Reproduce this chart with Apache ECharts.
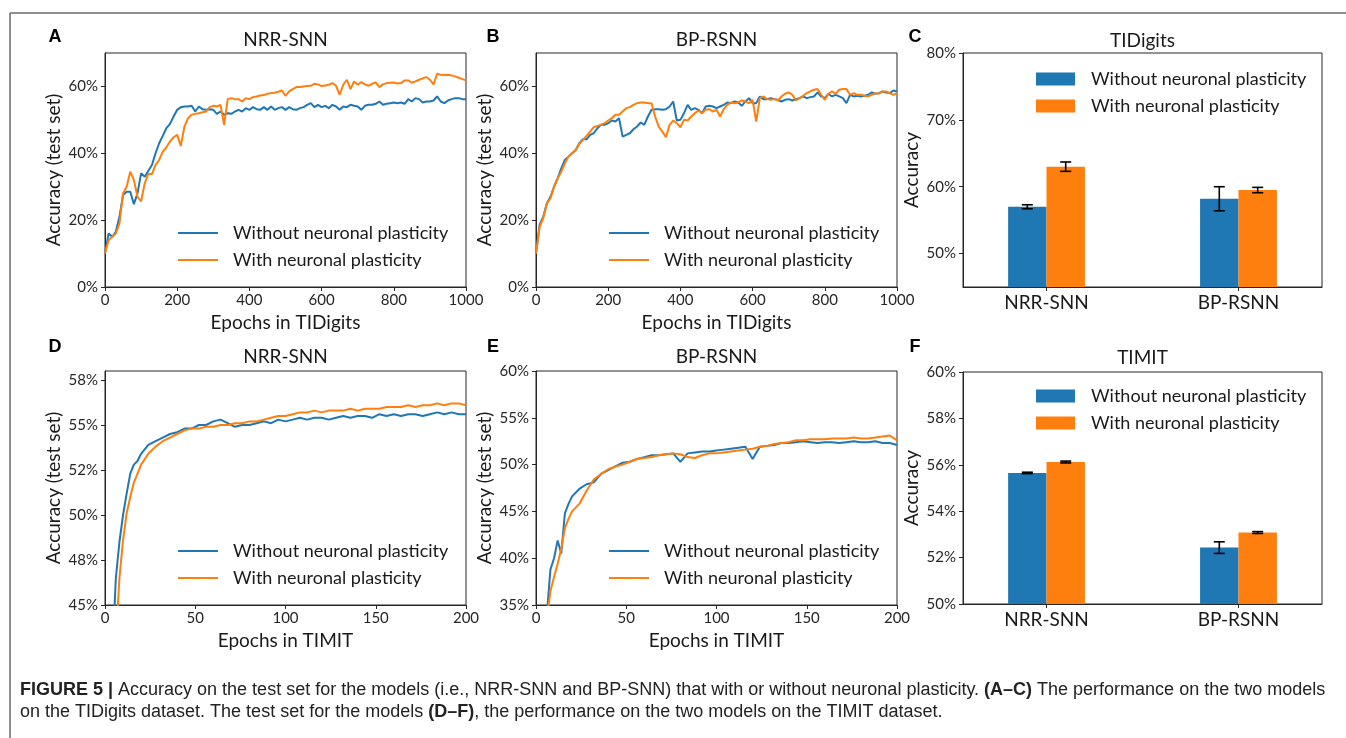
<!DOCTYPE html>
<html><head><meta charset="utf-8">
<script src="https://cdn.jsdelivr.net/npm/echarts@6/dist/echarts.min.js"></script>
<style>html,body{margin:0;padding:0;background:#fff}#c{width:1346px;height:738px}</style>
</head><body><div id="c"></div>
<script>
const seriesNames = ['Without neuronal plasticity', 'With neuronal plasticity'];

const epochsTIDigits = [0,10,20,30,40,50,60,70,80,90,100,110,120,130,140,150,160,170,180,190,200,210,220,230,240,250,260,270,280,290,300,310,320,330,340,350,360,370,380,390,400,410,420,430,440,450,460,470,480,490,500,510,520,530,540,550,560,570,580,590,600,610,620,630,640,650,660,670,680,690,700,710,720,730,740,750,760,770,780,790,800,810,820,830,840,850,860,870,880,890,900,910,920,930,940,950,960,970,980,990,1000];

const nrrTIDigitsWithout = [10,16,15,16.5,21,27.5,28.5,28.5,24.8,28,
34,33,34.8,36.5,40,43,45.2,47.5,48.8,51,
53,53.8,54,54,54.2,52.5,54,53.2,53,53.2,
53,51.8,52.5,51.5,52,51.8,52.5,53,52.5,53.5,
53,53.8,53.2,53,53.8,53,54,53,53.5,53.8,
53,53.8,53.2,53,53.5,53.8,54.5,55,53.8,54.5,
53.8,54.2,53.5,54.5,54,53,54,53.8,54.5,54.2,
54,53,54.2,54.5,54.5,54.8,55.5,54.5,54.8,55,
55.2,55,55.2,54.8,56.2,55.5,56.5,56.2,55.2,55.5,
55.5,55.8,57,55.5,55,55.8,56.2,56.5,56.5,56.2,56.2];

const nrrTIDigitsWith = [10,14,15,16,19,28,30,34.5,32,27,
25.6,31,33.8,33.8,36.5,38,40.5,41.8,43.5,44.8,
45.5,42.2,48,50.5,51.5,51.8,52,52.3,52.5,53.8,
54.2,54,54.5,48.5,56.2,56.5,56.2,56.2,55.5,56.5,
56.2,56.8,57,57.3,57.4,57.8,58,58.1,58.4,58.8,
57.2,58.5,59.2,59.8,59.8,60,60.1,60.2,60.8,60.6,
60.1,60.3,60.5,61,60.2,57.5,60.5,62,59.2,61.5,
60.5,61.3,60.6,60.2,60.8,61.2,59.8,60.6,61,61.1,
61.2,60.9,61,61.8,61.8,61.1,61.5,62,62.4,62.8,
62,60.6,63.8,63.5,63.4,63.5,63.3,63,62.6,62.2,61.8];

const bpTIDigitsWithout = [10,18.6,21,25,27,30,32.5,35.5,38,39,
40,41,43,44.2,44.2,45.5,46,47.5,48.5,48.5,
49,49.8,49.5,50.5,45,45.5,46,47.2,48,49.2,
48.5,51,53,53.2,53.2,53,53.2,54,55.5,49.8,
50,52,54.5,53,53.5,53,52,54,54.2,54,
53.5,54,54.5,55.2,55,55.5,55.2,54.2,55.5,56.5,
55,55,57,56.2,56.2,56.5,56.2,56,55.5,56,
56.2,55.8,56.2,56.5,57,56.5,56.8,57,58.2,57,
56.5,57.8,57,57.5,57,56.5,55,57.5,57,57.2,
57,57.2,57.5,58.2,57.8,58,58.5,58.2,58,58.8,58.5];

const bpTIDigitsWith = [10,18,20.5,25,26.5,30,32.5,34.5,37,39,
40,41,42.8,44,45.2,46.5,47.8,48.2,48.5,49,
49.8,50.5,51.5,51.5,52.5,53.5,53.8,54.5,55,55.2,
55.2,55,55,51,48,46.5,44.8,48.5,49.8,49,
47.8,50,49.8,51,52,52.8,52,53,53.2,52.5,
53,51,53.2,54.5,55.2,55,55.2,55.8,55.5,55,
56,49.5,56.5,57,56.2,56,56.2,55.8,57,57.8,
58.2,57.5,55.8,56.5,57.2,58,58.5,59,59.2,57.5,
56,57.8,58.5,57.8,59,59.2,59.2,57.5,58,57.5,
57.5,57.2,57,57.5,58,57.8,58.5,58.5,58,57.5,58];

const epochsTIMIT = [0,2,4,6,8,10,12,14,16,18,20,24,28,32,36,40,44,48,52,56,60,64,68,72,76,80,84,88,92,96,100,104,108,112,116,120,124,128,132,136,140,144,148,152,156,160,164,168,172,176,180,184,188,192,196,200];

const nrrTIMITWithout = [30,36,42,46.5,48.5,50.0,51.2,52.3,52.8,53.0,53.4,
53.9,54.1,54.3,54.5,54.6,54.8,54.8,55.0,55.0,55.2,
55.3,55.1,54.9,55.0,55.0,55.1,55.2,55.1,55.3,55.2,
55.3,55.4,55.3,55.4,55.4,55.3,55.4,55.5,55.4,55.5,
55.5,55.4,55.6,55.5,55.6,55.5,55.6,55.6,55.5,55.6,
55.7,55.6,55.7,55.6,55.6];

const nrrTIMITWith = [25,32,38,43,46.5,48.6,50.1,51.0,51.8,52.3,52.8,
53.4,53.8,54.1,54.3,54.5,54.7,54.8,54.8,54.9,54.9,
55.0,55.0,55.1,55.1,55.2,55.2,55.3,55.4,55.5,55.5,
55.6,55.7,55.7,55.8,55.7,55.8,55.8,55.8,55.9,55.8,
55.9,55.9,55.9,56.0,56.0,56.0,56.1,56.0,56.1,56.1,
56.2,56.1,56.2,56.2,56.1];

const bpTIMITWithout = [20,26,31,34,38.8,40.0,41.9,40.5,44.8,45.8,46.6,
47.4,47.9,48.1,49.0,49.4,49.8,50.2,50.3,50.6,50.8,
51.0,51.0,51.1,51.2,50.3,51.2,51.3,51.4,51.4,51.5,
51.6,51.7,51.8,51.9,50.6,51.9,52.0,52.1,52.3,52.3,
52.4,52.5,52.4,52.3,52.4,52.4,52.3,52.4,52.5,52.4,
52.4,52.5,52.3,52.3,52.1];

const bpTIMITWith = [18,24,29,33.5,36.5,38.0,39.4,41.0,43.2,44.2,45.0,
45.8,47.2,48.4,49.0,49.5,49.8,50.0,50.3,50.6,50.7,
50.8,51.0,51.1,51.2,51.1,50.8,50.7,51.0,51.2,51.2,
51.3,51.4,51.5,51.6,51.7,51.9,52.0,52.2,52.3,52.4,
52.6,52.6,52.7,52.7,52.7,52.8,52.8,52.8,52.9,52.8,
52.8,52.9,53.0,53.1,52.6];

const barCategories = ['NRR-SNN', 'BP-RSNN'];
const tidigitsBarWithout = [57.0, 58.2];
const tidigitsBarWithoutErr = [0.3, 1.8];
const tidigitsBarWith = [63.0, 59.5];
const tidigitsBarWithErr = [0.7, 0.4];
const timitBarWithout = [55.65, 52.43];
const timitBarWithoutErr = [0.03, 0.25];
const timitBarWith = [56.12, 53.08];
const timitBarWithErr = [0.04, 0.04];

const ticksTIDigitsLineY = [0, 20, 40, 60];
const ticksTIMITnrrY = [45, 47.5, 50, 52.5, 55, 57.5];
const labelsTIMITnrrY = ['45%', '48%', '50%', '52%', '55%', '58%'];
const ticksTIMITbpY = [35, 40, 45, 50, 55, 60];
const ticksTIDigitsBarY = [50, 60, 70, 80];
const ticksTIMITBarY = [50, 52, 54, 56, 58, 60];

const FONT = 'Lato';
const INK = '#1a1a1a';
const AX = '#262626';
const BLUE = '#1f77b4';
const ORANGE = '#ff7f0e';

const chart = echarts.init(document.getElementById('c'), null, {renderer: 'canvas'});

function mkGrid(l, t, w, h) {
  return {left: l, top: t, width: w, height: h, show: true, borderColor: AX, borderWidth: 1,
          backgroundColor: 'transparent', containLabel: false, outerBoundsMode: 'none'};
}
const grids = [
  mkGrid(105, 53, 361, 234),
  mkGrid(536, 53, 361, 234),
  mkGrid(963, 53, 359, 234),
  mkGrid(105, 371, 361, 234),
  mkGrid(536, 371, 361, 234),
  mkGrid(963, 372, 359, 232)
];

const axLine = {show: true, onZero: false, lineStyle: {color: AX, width: 1}};
const tickStyle = {color: AX, width: 1};
function xLine(gi, max, interval, name) {
  return {type: 'value', gridIndex: gi, min: 0, max: max, interval: interval,
    axisLine: axLine, axisTick: {show: true, length: 4, lineStyle: tickStyle},
    axisLabel: {fontFamily: FONT, fontSize: 15, color: AX, margin: 6,
      formatter: function (v) { return String(v); }},
    splitLine: {show: false},
    name: name, nameLocation: 'middle', nameGap: 26,
    nameTextStyle: {fontFamily: FONT, fontSize: 19, color: INK}};
}
function yAxisDef(gi, min, max, ticks, labels, name, gap) {
  return {type: 'value', gridIndex: gi, min: min, max: max,
    axisLine: axLine, axisTick: {show: true, length: 4, lineStyle: tickStyle, customValues: ticks},
    axisLabel: {fontFamily: FONT, fontSize: 15, color: AX, margin: 7, customValues: ticks,
      formatter: function (v) { const i = ticks.indexOf(v); return labels ? labels[i] : (v + '%'); }},
    splitLine: {show: false},
    name: name, nameLocation: 'middle', nameGap: gap, nameRotate: 90,
    nameTextStyle: {fontFamily: FONT, fontSize: 19, color: INK}};
}
function xBar(gi) {
  return {type: 'value', gridIndex: gi, min: -0.435, max: 1.435,
    axisLine: axLine, axisTick: {show: true, length: 4, lineStyle: tickStyle, customValues: [0, 1]},
    axisLabel: {fontFamily: FONT, fontSize: 19, color: INK, margin: 6, customValues: [0, 1],
      formatter: function (v) { return barCategories[Math.round(v)]; }},
    splitLine: {show: false}};
}

const xAxes = [
  xLine(0, 1000, 200, 'Epochs in TIDigits'),
  xLine(1, 1000, 200, 'Epochs in TIDigits'),
  xBar(2),
  xLine(3, 200, 50, 'Epochs in TIMIT'),
  xLine(4, 200, 50, 'Epochs in TIMIT'),
  xBar(5)
];
const yAxes = [
  yAxisDef(0, 0, 70, ticksTIDigitsLineY, null, 'Accuracy (test set)', 42),
  yAxisDef(1, 0, 70, ticksTIDigitsLineY, null, 'Accuracy (test set)', 42),
  yAxisDef(2, 45, 80, ticksTIDigitsBarY, null, 'Accuracy', 42),
  yAxisDef(3, 45, 58, ticksTIMITnrrY, labelsTIMITnrrY, 'Accuracy (test set)', 42),
  yAxisDef(4, 35, 60, ticksTIMITbpY, null, 'Accuracy (test set)', 42),
  yAxisDef(5, 50, 60, ticksTIMITBarY, null, 'Accuracy', 42)
];

function zip(xs, ys) { return xs.map(function (x, i) { return [x, ys[i]]; }); }
function lineSeries(gi, name, color, xs, ys) {
  return {type: 'line', name: name, xAxisIndex: gi, yAxisIndex: gi, data: zip(xs, ys),
    symbol: 'none', showSymbol: false, clip: true, animation: false,
    lineStyle: {width: 2, color: color}, itemStyle: {color: color}};
}
function barRender(offset, color) {
  return function (params, api) {
    const idx = api.value(0), val = api.value(1), err = api.value(2);
    const cs = params.coordSys;
    const bottom = cs.y + cs.height;
    const l = api.coord([idx + offset - 0.1, val]);
    const r = api.coord([idx + offset + 0.1, val]);
    const c = api.coord([idx + offset, val + err]);
    const d = api.coord([idx + offset, val - err]);
    const cap = 5.5;
    const ls = {stroke: '#000', lineWidth: 1.6};
    return {type: 'group', children: [
      {type: 'rect', shape: {x: l[0], y: l[1], width: r[0] - l[0], height: bottom - l[1]}, style: {fill: color}},
      {type: 'line', shape: {x1: c[0], y1: c[1], x2: d[0], y2: d[1]}, style: ls},
      {type: 'line', shape: {x1: c[0] - cap, y1: c[1], x2: c[0] + cap, y2: c[1]}, style: ls},
      {type: 'line', shape: {x1: d[0] - cap, y1: d[1], x2: d[0] + cap, y2: d[1]}, style: ls}
    ]};
  };
}
function barSeries(gi, name, color, offset, vals, errs) {
  return {type: 'custom', name: name, xAxisIndex: gi, yAxisIndex: gi,
    data: barCategories.map(function (c, i) { return [i, vals[i], errs[i]]; }),
    encode: {x: 0, y: 1}, renderItem: barRender(offset, color), clip: true, animation: false,
    itemStyle: {color: color}};
}

const series = [
  lineSeries(0, seriesNames[0], BLUE, epochsTIDigits, nrrTIDigitsWithout),
  lineSeries(0, seriesNames[1], ORANGE, epochsTIDigits, nrrTIDigitsWith),
  lineSeries(1, seriesNames[0], BLUE, epochsTIDigits, bpTIDigitsWithout),
  lineSeries(1, seriesNames[1], ORANGE, epochsTIDigits, bpTIDigitsWith),
  barSeries(2, seriesNames[0], BLUE, -0.1, tidigitsBarWithout, tidigitsBarWithoutErr),
  barSeries(2, seriesNames[1], ORANGE, 0.1, tidigitsBarWith, tidigitsBarWithErr),
  lineSeries(3, seriesNames[0], BLUE, epochsTIMIT, nrrTIMITWithout),
  lineSeries(3, seriesNames[1], ORANGE, epochsTIMIT, nrrTIMITWith),
  lineSeries(4, seriesNames[0], BLUE, epochsTIMIT, bpTIMITWithout),
  lineSeries(4, seriesNames[1], ORANGE, epochsTIMIT, bpTIMITWith),
  barSeries(5, seriesNames[0], BLUE, -0.1, timitBarWithout, timitBarWithoutErr),
  barSeries(5, seriesNames[1], ORANGE, 0.1, timitBarWith, timitBarWithErr)
];

function lineLegend(left, top) {
  return {left: left, top: top, orient: 'vertical', data: seriesNames, selectedMode: false,
    padding: 0, icon: 'rect', itemWidth: 40, itemHeight: 2.2, itemGap: 9,
    textStyle: {fontFamily: FONT, fontSize: 18, color: INK, lineHeight: 18, padding: [0, 0, 0, 10]}};
}
function barLegend(left, top) {
  return {left: left, top: top, orient: 'vertical', data: seriesNames, selectedMode: false,
    padding: 0, icon: 'rect', itemWidth: 39, itemHeight: 13, itemGap: 9,
    textStyle: {fontFamily: FONT, fontSize: 18, color: INK, lineHeight: 18, padding: [0, 0, 0, 11]}};
}
const legends = [
  lineLegend(178, 224), lineLegend(609, 224), barLegend(1036, 70),
  lineLegend(178, 542), lineLegend(609, 542), barLegend(1036, 387)
];

function txt(x, y, s, font, color, align) {
  return {type: 'text', x: x, y: y, silent: true,
    style: {text: s, font: font, fill: color || INK, align: align || 'center', verticalAlign: 'middle'}};
}
const titleFont = '19px ' + FONT;
const letterFont = 'bold 18px "Liberation Sans", Arial, sans-serif';
const capFont = '18px "Liberation Sans Narrow", "Arial Narrow", "Liberation Sans", sans-serif';
const capBold = 'bold 18px "Liberation Sans Narrow", "Arial Narrow", "Liberation Sans", sans-serif';

const graphics = [
  {type: 'line', silent: true, shape: {x1: 10, y1: 13, x2: 1346, y2: 13}, style: {stroke: '#6a6a6a', lineWidth: 1.5}},
  {type: 'line', silent: true, shape: {x1: 10, y1: 13, x2: 10, y2: 738}, style: {stroke: '#6a6a6a', lineWidth: 1.5}},
  txt(55, 37, 'A', letterFont, '#000'),
  txt(493, 37, 'B', letterFont, '#000'),
  txt(915, 37, 'C', letterFont, '#000'),
  txt(55, 347, 'D', letterFont, '#000'),
  txt(493, 347, 'E', letterFont, '#000'),
  txt(915, 347, 'F', letterFont, '#000'),
  txt(285.5, 40, 'NRR-SNN', titleFont),
  txt(716.5, 40, 'BP-RSNN', titleFont),
  txt(1142.5, 41, 'TIDigits', titleFont),
  txt(285.5, 357, 'NRR-SNN', titleFont),
  txt(716.5, 357, 'BP-RSNN', titleFont),
  txt(1142.5, 358, 'TIMIT', titleFont),
  {type: 'text', x: 20, y: 690, silent: true, style: {
    text: '{b|FIGURE 5 |} Accuracy on the test set for the models (i.e., NRR-SNN and BP-SNN) that with or without neuronal plasticity. {b|(A–C)} The performance on the two models',
    font: capFont, fill: '#222', align: 'left', verticalAlign: 'middle',
    rich: {b: {font: capBold, fill: '#222'}}}},
  {type: 'text', x: 20, y: 712, silent: true, style: {
    text: 'on the TIDigits dataset. The test set for the models {b|(D–F)}, the performance on the two models on the TIMIT dataset.',
    font: capFont, fill: '#222', align: 'left', verticalAlign: 'middle',
    rich: {b: {font: capBold, fill: '#222'}}}}
];

chart.setOption({
  animation: false,
  backgroundColor: '#ffffff',
  grid: grids,
  xAxis: xAxes,
  yAxis: yAxes,
  legend: legends,
  series: series,
  graphic: graphics
});
</script>
</body></html>
